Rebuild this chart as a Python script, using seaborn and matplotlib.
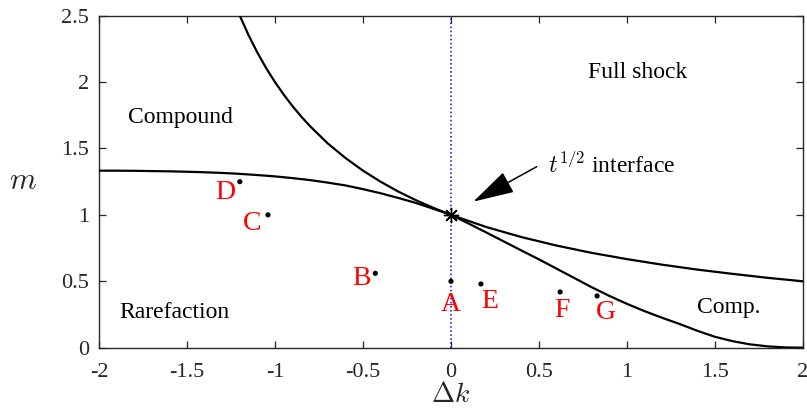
import numpy as np
import pandas as pd
import matplotlib
matplotlib.use("Agg")
import matplotlib.pyplot as plt
import seaborn as sns

# Boundary between full shock and compound/comp. regions
k_upper = [-1.20, -1.15, -1.10, -1.05, -1.00, -0.95, -0.90, -0.85, -0.80, -0.70,
           -0.60, -0.50, -0.40, -0.30, -0.20, -0.10, 0.00, 0.20, 0.40, 0.60,
           0.80, 1.00, 1.20, 1.40, 1.60, 1.80, 2.00]
m_upper = [2.500, 2.353, 2.222, 2.105, 2.000, 1.905, 1.818, 1.739, 1.667, 1.538,
           1.429, 1.333, 1.250, 1.176, 1.111, 1.053, 1.000, 0.909, 0.833, 0.769,
           0.714, 0.667, 0.625, 0.588, 0.556, 0.526, 0.500]

# Boundary between rarefaction and compound/comp. regions
k_lower = [-2.00, -1.90, -1.80, -1.70, -1.60, -1.50, -1.40, -1.30, -1.20, -1.10,
           -1.00, -0.90, -0.80, -0.70, -0.60, -0.50, -0.40, -0.30, -0.20, -0.10,
           0.00, 0.10, 0.20, 0.30, 0.40, 0.50, 0.60, 0.70, 0.80, 0.90,
           1.00, 1.10, 1.20, 1.30, 1.40, 1.50, 1.60, 1.70, 1.80, 1.90, 2.00]
m_lower = [1.333, 1.333, 1.332, 1.330, 1.328, 1.325, 1.321, 1.316, 1.309, 1.300,
           1.290, 1.277, 1.262, 1.243, 1.222, 1.194, 1.163, 1.128, 1.090, 1.046,
           1.000, 0.935, 0.868, 0.800, 0.732, 0.665, 0.595, 0.525, 0.455, 0.390,
           0.330, 0.275, 0.225, 0.178, 0.127, 0.082, 0.049, 0.025, 0.010, 0.002,
           0.000]

# Sample cases
case_names = ["A", "B", "C", "D", "E", "F", "G"]
case_k = [0.00, -0.43, -1.04, -1.20, 0.17, 0.62, 0.83]
case_m = [0.50, 0.56, 1.00, 1.25, 0.48, 0.42, 0.39]
# label anchor (centre, baseline) for each case letter
label_k = [0.00, -0.51, -1.13, -1.28, 0.22, 0.63, 0.88]
label_m = [0.276, 0.472, 0.890, 1.120, 0.297, 0.229, 0.214]

region_names = ["Compound", "Rarefaction", "Full shock", "Comp."]
region_k = [-1.54, -1.57, 1.06, 1.58]
region_m = [1.694, 0.221, 2.03, 0.259]

xticks = [-2, -1.5, -1, -0.5, 0, 0.5, 1, 1.5, 2]
xtick_labels = ["-2", "-1.5", "-1", "-0.5", "0", "0.5", "1", "1.5", "2"]
yticks = [0, 0.5, 1, 1.5, 2, 2.5]
ytick_labels = ["0", "0.5", "1", "1.5", "2", "2.5"]

sns.set_theme(style="ticks")
plt.rcParams["font.family"] = ["Liberation Serif", "DejaVu Serif"]
plt.rcParams["mathtext.fontset"] = "cm"
plt.rcParams["axes.unicode_minus"] = False

fig = plt.figure(figsize=(8.07, 4.15), dpi=100)
ax = fig.add_axes([99 / 807, 1 - 347.7 / 415, (803 - 99) / 807, (347.7 - 15.7) / 415])

upper = pd.DataFrame({"k": k_upper, "m": m_upper})
lower = pd.DataFrame({"k": k_lower, "m": m_lower})
cases = pd.DataFrame({"k": case_k, "m": case_m})

# vertical dotted line at zero detuning
ax.plot([0, 0], [0, 2.5], color="blue", linestyle=":", linewidth=1.1, zorder=1)

sns.lineplot(data=upper, x="k", y="m", ax=ax, color="black", linewidth=1.6,
             sort=False, estimator=None, zorder=3)
sns.lineplot(data=lower, x="k", y="m", ax=ax, color="black", linewidth=1.6,
             sort=False, estimator=None, zorder=3)
sns.scatterplot(data=cases, x="k", y="m", ax=ax, color="black", s=14,
                edgecolor="none", zorder=4)

# interface point
ax.plot([0], [1], marker=(8, 2, 0), markersize=11, color="black",
        markeredgewidth=1.0, linestyle="none", zorder=5)

for name, kx, my in zip(case_names, label_k, label_m):
    ax.text(kx, my, name, color="#ff0000", fontsize=20, ha="center", va="baseline")

for name, kx, my in zip(region_names, region_k, region_m):
    ax.text(kx, my, name, color="black", fontsize=17, ha="center", va="baseline")

ax.text(0.55, 1.313, r"$t^{1/2}$ interface", fontsize=17, ha="left",
        va="baseline", color="black")
ax.annotate("", xy=(0.127, 1.10), xytext=(0.487, 1.363),
            arrowprops=dict(arrowstyle="-|>,head_length=1.3,head_width=0.36",
                            mutation_scale=20, lw=1.1, color="black",
                            shrinkA=0, shrinkB=0))

ax.set_xlim(-2, 2)
ax.set_ylim(0, 2.5)
ax.set_xticks(xticks)
ax.set_xticklabels(xtick_labels)
ax.set_yticks(yticks)
ax.set_yticklabels(ytick_labels)
ax.tick_params(direction="in", length=5, width=0.9, color="#262626",
               labelsize=16, top=True, right=True, pad=7)
ax.tick_params(axis="x", pad=11)
for sp in ax.spines.values():
    sp.set_visible(True)
    sp.set_color("#262626")
    sp.set_linewidth(1.0)

ax.set_xlabel(r"$\Delta k$", fontsize=20, labelpad=1)
ax.set_ylabel(r"$m$", fontsize=22, rotation=0, va="center", labelpad=28)

fig.savefig("out.png", dpi=100)
